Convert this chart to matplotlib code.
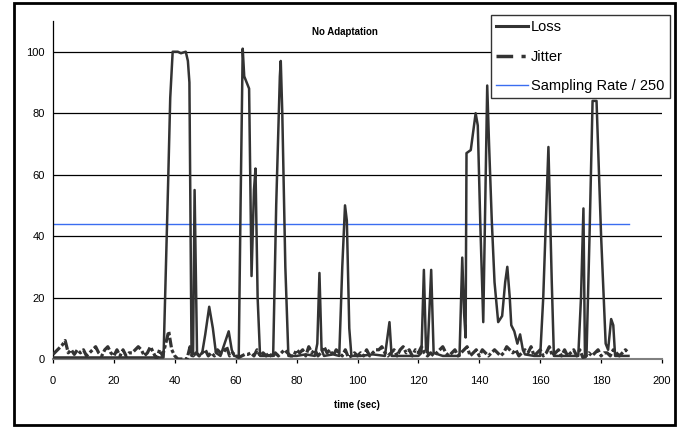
import matplotlib
matplotlib.use("Agg")
import matplotlib.pyplot as plt
from matplotlib.patches import Rectangle
from matplotlib.lines import Line2D

plt.rcParams['font.family'] = ['Liberation Sans', 'DejaVu Sans']
plt.rcParams['lines.scale_dashes'] = False

# ---- data ----
loss_time = [0, 5, 10, 15, 20, 25, 30, 35, 36.3, 37.8, 38.5, 39.3, 41, 42, 43.6, 44.3, 44.8, 45.5,
             46, 46.5, 47.3, 48, 49, 50, 51.3, 52.5, 53.5, 55, 56, 57.7, 58.7, 59.5, 61,
             61.6, 62.3, 62.8, 63.6, 64.4, 65.2, 66.0, 66.5, 67.2, 68, 70, 72.3,
             73.3, 74.5, 74.8, 75.3, 76.3, 77.3, 80, 83, 86, 86.8, 87.5, 88.2, 89, 92, 94,
             95, 95.9, 96.5, 97.3, 98, 101, 105, 109, 110.5, 111.2, 115, 120, 121,
             121.8, 122.5, 123, 124.2, 125, 128, 133.5, 134.4, 135.0, 135.5, 135.8,
             137.2, 138.8, 139.5, 140.3, 141.3, 142.6, 143.2, 144.1, 145, 146.2, 147.5,
             148.5, 149.2, 150, 150.5, 151.5, 152.5, 153.4, 154.3, 155, 158, 160, 161,
             162.7, 163.8, 164.5, 168, 172.5, 173.4, 174.2, 174.7, 175.2, 176.2, 177.2,
             178.5, 180, 181.5, 182.3, 183.3, 184, 184.6, 187, 189]
loss_values = [0.5, 0.5, 0.5, 0.5, 0.5, 0.5, 0.5, 0.5, 0.5, 57, 85, 100, 100, 99.5, 100, 97, 90, 1,
               2, 55, 2, 1, 2, 8, 17, 10, 2, 1, 4, 9, 3, 1, 1,
               50, 101, 92, 90, 88, 27, 55, 62, 20, 1, 1, 1,
               50, 92, 97, 80, 30, 1, 1, 1.5, 1, 5, 28, 3, 1, 1.5, 1,
               30, 50, 45, 10, 1, 1, 1.5, 1, 12, 1, 1, 1, 2,
               29, 3, 2, 29, 2, 1, 1, 33, 15, 7, 67,
               68, 80, 76, 45, 12, 89, 70, 45, 25, 12, 14,
               25, 30, 20, 11, 9, 5, 8, 3, 1.5, 1, 1, 20,
               69, 25, 1, 1, 1, 20, 49, 0.5, 1, 40, 84,
               84, 40, 5, 3, 13, 11, 1, 1, 1]

jitter_time = list(range(190))
jitter_values = [1.5, 2.5, 3.5, 4.5, 6, 2, 3, 1.5, 3, 2,
                 3, 1, 2, 3, 4, 2, 1, 3, 4, 2,
                 1, 3, 1, 3, 1, 2, 2, 3, 4, 3,
                 1, 2, 4, 2, 0, 3, 1, 5, 9, 3,
                 1, 0, 0, 0, 0, 4, 1, 2, 1, 2,
                 3, 1, 2, 1, 3, 2, 2, 4, 1, 2,
                 1, 0.5, 1, 1.5, 1.5, 2, 1, 3, 1, 2,
                 1, 2, 0.5, 2, 1, 2, 3, 2, 1, 1,
                 3, 2, 3, 1, 4, 2, 3, 1, 2, 4,
                 2, 3, 1, 3, 2, 1, 3, 0.5, 1, 2,
                 1, 2, 1, 3, 1, 2, 3, 3, 4, 2,
                 1, 2, 3, 1, 3, 4, 2, 3, 1, 3,
                 2, 4, 2, 1, 2, 1, 2, 3, 4, 2,
                 1, 2, 3, 1, 2, 3, 4, 1, 2, 3,
                 1, 3, 2, 1, 2, 3, 2, 1, 2, 4,
                 3, 2, 3, 1, 2, 3, 2, 4, 1, 2,
                 3, 1, 2, 4, 1, 2, 3, 1, 3, 1,
                 2, 3, 1, 3, 0.5, 1, 2, 1, 2, 3,
                 1, 2, 2, 1, 3, 2, 1, 2, 3, 2]

sampling_time = [0, 189]
sampling_values = [44, 44]

x_ticks = [0, 20, 40, 60, 80, 100, 120, 140, 160, 180, 200]
y_ticks = [0, 20, 40, 60, 80, 100]

# ---- figure ----
W, H = 680, 428
fig = plt.figure(figsize=(W / 100, H / 100), dpi=100)
fig.patch.set_facecolor('white')

ax = fig.add_axes([53 / W, 1 - 359 / H, (662 - 53) / W, (359 - 21) / H])
ax.set_xlim(0, 200)
ax.set_ylim(0, 110)

for yv in y_ticks[1:]:
    ax.axhline(yv, color='black', lw=0.9, zorder=1)

jitter_style = (0, (7, 1.8, 2.5, 1.8))
ax.plot(loss_time, loss_values, color='#333333', lw=1.8, zorder=4, solid_joinstyle='round')
ax.plot(jitter_time, jitter_values, color='#333333', lw=2.3, zorder=3,
        linestyle=jitter_style)
ax.plot(sampling_time, sampling_values, color='#3a6df0', lw=1.0, zorder=2)

for s in ['top', 'right']:
    ax.spines[s].set_visible(False)
ax.spines['left'].set_color('black')
ax.spines['left'].set_linewidth(0.9)
ax.spines['bottom'].set_color('#808080')
ax.spines['bottom'].set_linewidth(1.5)

ax.set_xticks(x_ticks)
ax.set_yticks(y_ticks)
ax.tick_params(axis='x', length=3, width=0.9, color='black', labelsize=8, pad=9)
ax.tick_params(axis='y', length=0, labelsize=8, pad=6)

fig.text(345 / W, 1 - 32 / H, 'No Adaptation', ha='center', va='center',
         fontsize=7, fontweight='bold')
fig.text(357 / W, 1 - 405 / H, 'time (sec)', ha='center', va='center',
         fontsize=7, fontweight='bold')

handles = [Line2D([], [], color='#333333', lw=2.2),
           Line2D([], [], color='#333333', lw=2.5, linestyle=(0, (12, 6, 3, 6))),
           Line2D([], [], color='#3a6df0', lw=1.0)]
leg = fig.legend(handles, ['Loss', 'Jitter', 'Sampling Rate / 250'],
                 loc='upper left', bbox_to_anchor=(491 / W, 1 - 15 / H),
                 prop={'size': 10.5},
                 frameon=True, fancybox=False, shadow=False, borderpad=0.35,
                 handlelength=2.2, handletextpad=0.2, labelspacing=1.07,
                 borderaxespad=0)
leg.get_frame().set_edgecolor('#333333')
leg.get_frame().set_linewidth(1.0)
leg.get_frame().set_alpha(1)

fig.add_artist(Rectangle((14 / W, 1 - 425 / H), (675 - 14) / W, (425 - 3) / H,
                         transform=fig.transFigure, fill=False, edgecolor='black', lw=2.0))

fig.savefig('out.png', dpi=100, facecolor='white')
